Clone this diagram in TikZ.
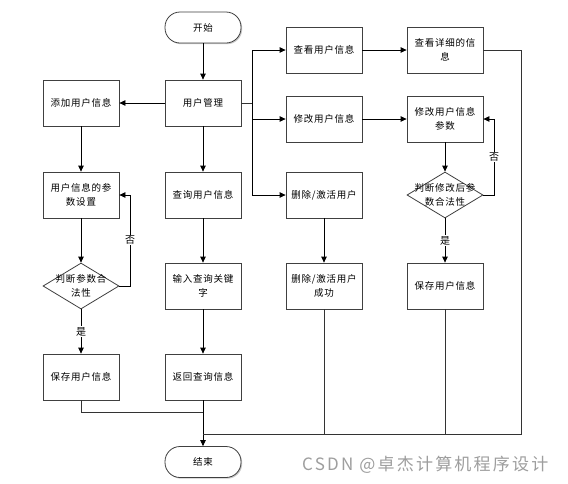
\documentclass[tikz,border=0pt]{standalone}
\usepackage{fontspec}
\setmainfont{Noto Sans CJK SC}[LetterSpace=8]
\newfontfamily\wmfont{Noto Sans CJK SC}[LetterSpace=13]
\usetikzlibrary{arrows.meta,shapes.geometric,shadows,calc}
\tikzset{
  box/.style={draw=black!75, line width=0.8pt, fill=white, minimum width=76pt, minimum height=46pt,
    align=center, inner sep=2pt, font=\fontsize{9.5}{14}\selectfont,
    drop shadow={shadow xshift=1.2pt, shadow yshift=-1.2pt, fill=black!35, opacity=0.6}},
  term/.style={box, rounded corners=15pt, minimum height=31pt},
  dia/.style={draw=black!75, line width=0.8pt, fill=white, diamond, minimum width=76pt, minimum height=46pt, inner sep=0pt},
  diatext/.style={align=center, font=\fontsize{9.5}{14}\selectfont, inner sep=0pt},
  arr/.style={-{Triangle[length=6pt,width=5.5pt]}, line width=0.8pt},
  ln/.style={line width=0.8pt, draw=black!80},
  lab/.style={fill=white, inner sep=1pt, font=\fontsize{10}{11}\selectfont}
}
\begin{document}
\begin{tikzpicture}[x=1pt,y=-1pt]
\fill[white] (0,0) rectangle (568,483);
\useasboundingbox (0,0) rectangle (568,483);
% left / centre column
\node[term] (start) at (203,27.5) {开始};
\node[box] (mgmt) at (203,103) {用户管理};
\node[box] (add) at (81,103) {添加用户信息};
\node[box] (param) at (81,195) {用户信息的参\\数设置};
\node[dia, label={[diatext]center:判断参数合\\法性}] (d1) at (81,286) {};
\node[box] (save1) at (81,377) {保存用户信息};
\node[box] (query) at (203,195) {查询用户信息};
\node[box] (input) at (203,286) {输入查询关键\\字};
\node[box] (ret) at (203,377) {返回查询信息};
\node[term] (end) at (203,462) {结束};
% right columns
\node[box] (view) at (324,50) {查看用户信息};
\node[box] (detail) at (445,50) {查看详细的信\\息};
\node[box] (mod) at (324,119) {修改用户信息};
\node[box] (modp) at (445,119) {修改用户信息\\参数};
\node[box] (del) at (324,195) {删除/激活用户};
\node[dia, label={[diatext]center:判断修改后参\\数合法性}] (d2) at (445,195) {};
\node[box] (delok) at (324,286) {删除/激活用户\\成功};
\node[box] (save2) at (445,286) {保存用户信息};
% coordinates
\coordinate (b) at (252,103);
\coordinate (c1) at (130,195);
\coordinate (c2) at (494,119);
\coordinate (j1) at (203,412);
\coordinate (j2) at (203,434);
\coordinate (r2) at (521,434);
% connectors
\draw[arr] (start) -- (mgmt);
\draw[arr] (mgmt) -- (add);
\draw[arr] (add) -- (param);
\draw[arr] (param) -- (d1);
\draw[arr] (d1) -- node[lab]{是} (save1);
\draw[arr] (d1.east) -| (c1) -- (param.east);
\node[lab] (no1) at (130,240) {否};
\draw[arr] (mgmt) -- (query);
\draw[arr] (query) -- (input);
\draw[arr] (input) -- (ret);
\draw[arr] (ret) -- (end);
\draw[ln] (save1.south) |- (j1);
\draw[ln] (mgmt.east) -- (b);
\draw[arr] (b) |- (view);
\draw[arr] (b) |- (mod);
\draw[arr] (b) |- (del);
\draw[arr] (view) -- (detail);
\draw[arr] (mod) -- (modp);
\draw[arr] (modp) -- (d2);
\draw[arr] (d2) -- node[lab]{是} (save2);
\draw[arr] (d2.east) -| (c2) -- (modp.east);
\node[lab] (no2) at (494,157) {否};
\draw[arr] (del) -- (delok);
\draw[ln] (detail.east) -| (r2) -- (j2);
\draw[ln] (delok.south) -- (delok.south |- j2);
\draw[ln] (save2.south) -- (save2.south |- j2);
% watermark
\node[text=black!38, font=\wmfont\fontsize{17}{17}\selectfont, anchor=west, inner sep=0pt] (wm) at (302,465) {CSDN @卓杰计算机程序设计};
\end{tikzpicture}
\end{document}
